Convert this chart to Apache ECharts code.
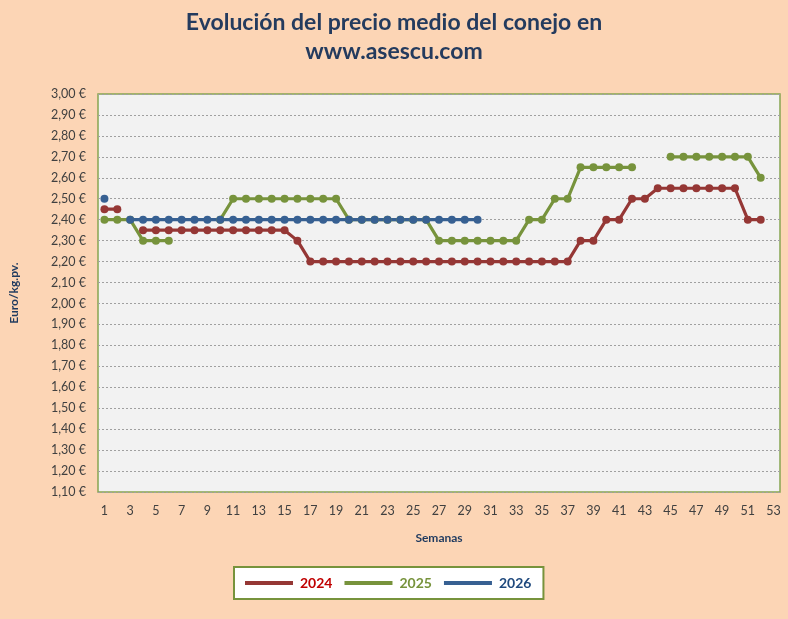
<!DOCTYPE html>
<html>
<head>
<meta charset="utf-8">
<script src="https://cdn.jsdelivr.net/npm/echarts@6/dist/echarts.min.js"></script>
<style>
html,body{margin:0;padding:0;background:#FCD5B5;}
#c{width:788px;height:619px;}
</style>
</head>
<body>
<div id="c"></div>
<script>
var weeks = ['1','2','3','4','5','6','7','8','9','10','11','12','13','14','15','16','17','18','19','20','21','22','23','24','25','26','27','28','29','30','31','32','33','34','35','36','37','38','39','40','41','42','43','44','45','46','47','48','49','50','51','52','53'];

var s2024 = [2.45,2.45,null,2.35,2.35,2.35,2.35,2.35,2.35,2.35,2.35,2.35,2.35,2.35,2.35,2.30,
  2.20,2.20,2.20,2.20,2.20,2.20,2.20,2.20,2.20,2.20,2.20,2.20,2.20,2.20,2.20,2.20,2.20,2.20,2.20,2.20,2.20,
  2.30,2.30,2.40,2.40,2.50,2.50,2.55,2.55,2.55,2.55,2.55,2.55,2.55,2.40,2.40,null];

var s2025 = [2.40,2.40,2.40,2.30,2.30,2.30,null,null,null,2.40,
  2.50,2.50,2.50,2.50,2.50,2.50,2.50,2.50,2.50,
  2.40,2.40,2.40,2.40,2.40,2.40,2.40,
  2.30,2.30,2.30,2.30,2.30,2.30,2.30,
  2.40,2.40,2.50,2.50,2.65,2.65,2.65,2.65,2.65,null,null,
  2.70,2.70,2.70,2.70,2.70,2.70,2.70,2.60,null];

var s2026 = [2.50,null,2.40,2.40,2.40,2.40,2.40,2.40,2.40,2.40,2.40,2.40,2.40,2.40,2.40,2.40,2.40,2.40,2.40,2.40,2.40,2.40,2.40,2.40,2.40,2.40,2.40,2.40,2.40,2.40,
  null,null,null,null,null,null,null,null,null,null,null,null,null,null,null,null,null,null,null,null,null,null,null];

var seriesNames = ['2024','2025','2026'];
var lineColors = ['#953735','#77933C','#376092'];
var textColors = ['#C00000','#77933C','#1F497D'];

var FONT = 'Lato, "Open Sans", sans-serif';
var chart = echarts.init(document.getElementById('c'));

function mk(name, data, color){
  return {
    name: name, type: 'line', data: data,
    symbol: 'circle', symbolSize: 8,
    lineStyle: {width: 3.2, color: color},
    itemStyle: {color: color},
    connectNulls: false,
    animation: false
  };
}

chart.setOption({
  backgroundColor: '#FCD5B5',
  animation: false,
  title: {
    text: 'Evolución del precio medio del conejo en\nwww.asescu.com',
    left: 'center', top: 3,
    textStyle: {fontFamily: FONT, fontSize: 23, fontWeight: 'bold', color: '#243B5E', lineHeight: 29, align: 'center'}
  },
  grid: {left: 95, right: 8, top: 94, bottom: 127, show: true,
    backgroundColor: '#F2F2F2', borderColor: '#86A551', borderWidth: 1.5},
  legend: {
    data: seriesNames.map(function(n,i){return {name:n, icon:'rect', textStyle:{color:textColors[i]}};}),
    left: 234, top: 567,
    itemWidth: 48, itemHeight: 4, itemGap: 12,
    padding: [9, 12, 9, 11],
    backgroundColor: '#FFFFFF', borderColor: '#77933C', borderWidth: 2, borderRadius: 0,
    textStyle: {fontFamily: FONT, fontSize: 14, fontWeight: 'bold', padding: [0, 0, 0, 2]},
    selectedMode: false
  },
  xAxis: {
    type: 'category', data: weeks, boundaryGap: true,
    name: 'Semanas', nameLocation: 'middle', nameGap: 40,
    nameTextStyle: {fontFamily: FONT, fontSize: 12, fontWeight: 'bold', color: '#1F3A5F'},
    axisLine: {show: false}, axisTick: {show: false},
    axisLabel: {interval: 1, fontFamily: FONT, fontSize: 12.5, color: '#404040', margin: 12},
    splitLine: {show: false}
  },
  yAxis: {
    type: 'value', min: 1.10, max: 3.00, interval: 0.10,
    name: 'Euro/kg.pv.', nameLocation: 'middle', nameGap: 78, nameRotate: 90,
    nameTextStyle: {fontFamily: FONT, fontSize: 12, fontWeight: 'bold', color: '#1F3A5F'},
    axisLine: {show: false}, axisTick: {show: false},
    axisLabel: {fontFamily: FONT, fontSize: 12.5, color: '#404040', margin: 12,
      formatter: function(v){ return v.toFixed(2).replace('.', ',') + ' €'; }},
    splitLine: {show: true, lineStyle: {type: [2, 2], color: '#A0A0A0', width: 1}}
  },
  series: [
    mk(seriesNames[0], s2024, lineColors[0]),
    mk(seriesNames[1], s2025, lineColors[1]),
    mk(seriesNames[2], s2026, lineColors[2])
  ]
});
</script>
</body>
</html>
